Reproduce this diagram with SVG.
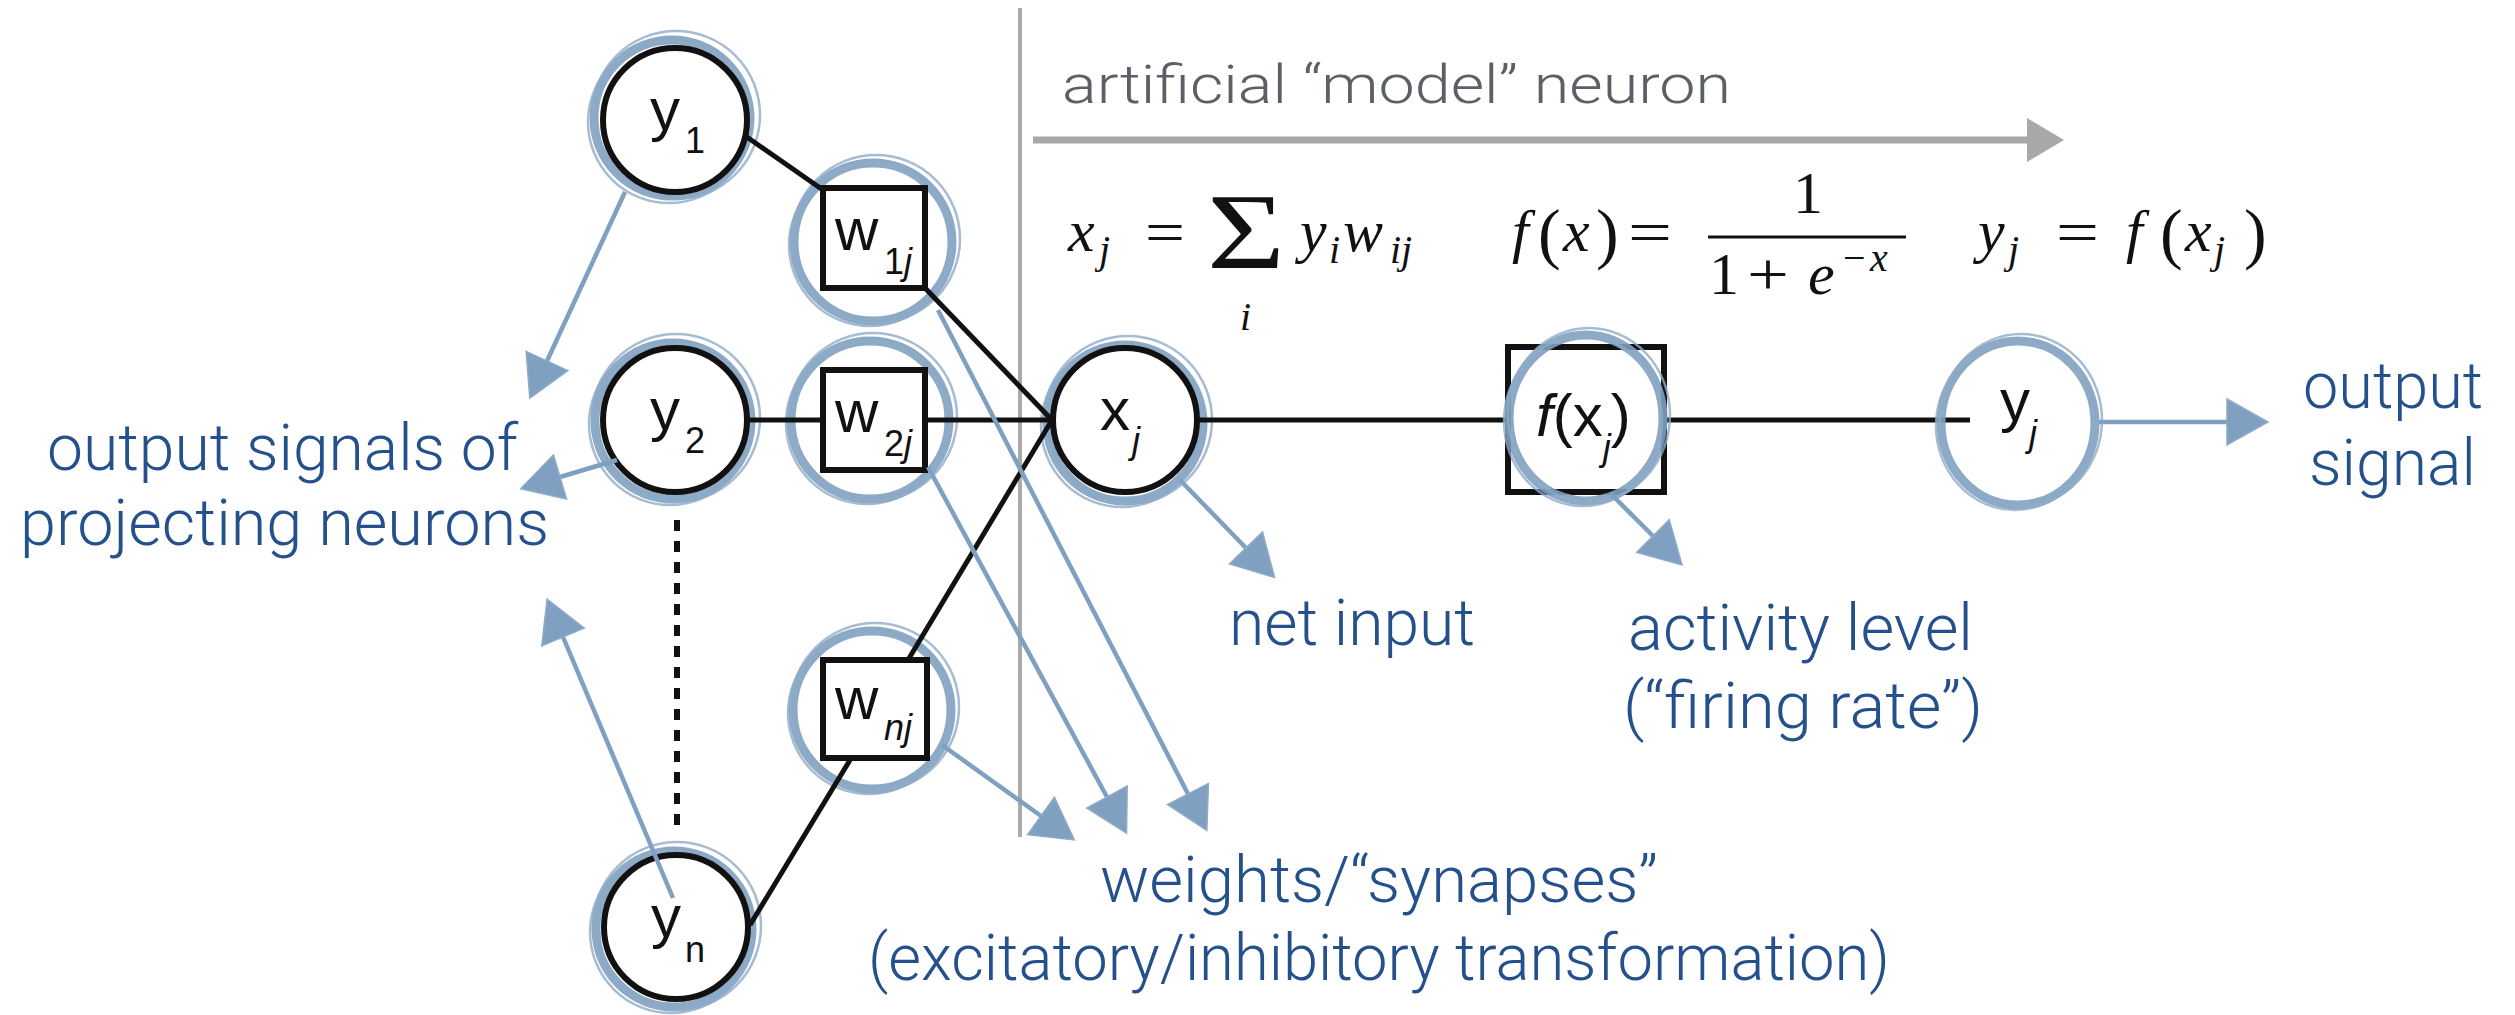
<svg xmlns="http://www.w3.org/2000/svg" width="2515" height="1015" viewBox="0 0 2515 1015">
<defs>
<style>
.ring{fill:none;stroke:#7fa0c0;stroke-width:9;opacity:.9}
.rt{fill:none;stroke:#8eabc8;stroke-width:2.5;opacity:.8}
.nc{fill:#fff;stroke:#111;stroke-width:6}
.bx{fill:#fff;stroke:#111;stroke-width:6}
.wire{stroke:#111;stroke-width:5;fill:none}
.barr{stroke:#7fa0c0;stroke-width:4.5;fill:none;marker-end:url(#ba)}
.nl{font-family:"Liberation Sans",Arial,sans-serif;font-size:60px;fill:#111}
.sub{font-size:36px}
.it{font-style:italic}
.lab{font-family:Roboto,"Liberation Sans",Arial,sans-serif;font-weight:300;font-size:65px;fill:#24508c}
.grey{font-family:Roboto,"Liberation Sans",Arial,sans-serif;font-weight:300;font-size:54px;fill:#5b5f66}
.m{font-family:"Liberation Serif","Times New Roman",serif;font-size:60px;fill:#111}
.mi{font-style:italic}
.ms{font-size:40px}
.mp{font-size:68px}
.sig{font-size:108px}
</style>
<marker id="ba" markerUnits="userSpaceOnUse" markerWidth="44" markerHeight="52" viewBox="0 -26 44 52" refX="0" refY="0" orient="auto" overflow="visible">
<path d="M0,-23 L41,0 L0,23 Z" fill="#7fa0c0" stroke="#8eabc8" stroke-width="1.5"/>
</marker>
<marker id="ga" markerUnits="userSpaceOnUse" markerWidth="42" markerHeight="50" viewBox="0 -25 42 50" refX="0" refY="0" orient="auto" overflow="visible">
<path d="M0,-22 L37,0 L0,22 Z" fill="#a8a8aa"/>
</marker>
</defs>
<rect width="2515" height="1015" fill="#fff"/>

<g id="model-region">
<line x1="1020" y1="8" x2="1020" y2="837" stroke="#aaaaaa" stroke-width="4"/>
<line x1="1033" y1="140" x2="2027" y2="140" stroke="#a8a8aa" stroke-width="7" marker-end="url(#ga)"/>
<text class="grey" x="1062" y="103" textLength="669" lengthAdjust="spacingAndGlyphs">artificial “model” neuron</text>
</g>

<g id="halos">
<circle class="ring" cx="672" cy="118" r="78"/><circle class="rt" cx="676" cy="115" r="84"/><circle class="rt" cx="669" cy="122" r="81"/>
<circle class="ring" cx="673" cy="421" r="78"/><circle class="rt" cx="676" cy="418" r="84"/><circle class="rt" cx="670" cy="424" r="81"/>
<circle class="ring" cx="674" cy="929" r="78"/><circle class="rt" cx="677" cy="926" r="84"/><circle class="rt" cx="671" cy="932" r="81"/>
<circle class="ring" cx="873" cy="242" r="79"/><circle class="rt" cx="876" cy="239" r="84"/><circle class="rt" cx="870" cy="245" r="81"/>
<circle class="ring" cx="870" cy="420" r="79"/><circle class="rt" cx="873" cy="417" r="84"/><circle class="rt" cx="867" cy="423" r="81"/>
<circle class="ring" cx="872" cy="710" r="79"/><circle class="rt" cx="875" cy="707" r="84"/><circle class="rt" cx="869" cy="713" r="81"/>
<circle class="ring" cx="1125" cy="423" r="78"/><circle class="rt" cx="1128" cy="420" r="84"/><circle class="rt" cx="1122" cy="426" r="81"/>
</g>

<g id="connectors">
<line class="wire" x1="744" y1="135" x2="823" y2="190"/>
<line class="wire" x1="748" y1="420" x2="823" y2="420"/>
<line class="wire" x1="750" y1="925" x2="850" y2="760"/>
<line class="wire" x1="925" y1="288" x2="1052" y2="420"/>
<line class="wire" x1="926" y1="420" x2="1052" y2="420"/>
<line class="wire" x1="908" y1="660" x2="1052" y2="420"/>
<line class="wire" x1="1198" y1="420" x2="1508" y2="420"/>
<line class="wire" x1="1664" y1="420" x2="1970" y2="420"/>
<line x1="677" y1="520" x2="677" y2="825" stroke="#111" stroke-width="6" stroke-dasharray="11 10"/>
</g>

<g id="node-y1">
<circle class="nc" cx="675" cy="120" r="72"/>
<text class="nl" x="650" y="130">y<tspan class="sub" x="685" y="153">1</tspan></text>
</g>
<g id="node-y2">
<circle class="nc" cx="675" cy="420" r="72"/>
<text class="nl" x="650" y="430">y<tspan class="sub" x="685" y="453">2</tspan></text>
</g>
<g id="node-yn">
<circle class="nc" cx="676" cy="927" r="72"/>
<text class="nl" x="651" y="937">y<tspan class="sub" x="685" y="962">n</tspan></text>
</g>
<g id="node-w1j">
<rect class="bx" x="823" y="188" width="102" height="100"/>
<text class="nl" x="835" y="250">w<tspan class="sub" x="884" y="274">1<tspan class="it">j</tspan></tspan></text>
</g>
<g id="node-w2j">
<rect class="bx" x="823" y="370" width="102" height="100"/>
<text class="nl" x="835" y="432">w<tspan class="sub" x="884" y="456">2<tspan class="it">j</tspan></tspan></text>
</g>
<g id="node-wnj">
<rect class="bx" x="823" y="660" width="104" height="98"/>
<text class="nl" x="835" y="719">w<tspan class="sub it" x="884" y="740">nj</tspan></text>
</g>
<g id="node-xj">
<circle class="nc" cx="1125" cy="420" r="72"/>
<text class="nl" x="1100" y="430">x<tspan class="sub it" x="1132" y="453">j</tspan></text>
</g>
<g id="node-fxj">
<rect class="bx" x="1508" y="347" width="156" height="145"/>
<ellipse class="ring" cx="1586" cy="418" rx="77" ry="83"/>
<ellipse class="rt" cx="1589" cy="415" rx="81" ry="87"/>
<ellipse class="rt" cx="1583" cy="421" rx="79" ry="85"/>
<text class="nl" x="1536" y="436"><tspan class="it">f</tspan>(x<tspan class="sub it" y="460">j</tspan><tspan y="436">)</tspan></text>
</g>
<g id="node-yj">
<ellipse class="ring" cx="2018" cy="423" rx="77" ry="82"/>
<ellipse class="rt" cx="2021" cy="420" rx="81" ry="86"/>
<ellipse class="rt" cx="2015" cy="426" rx="79" ry="84"/>
<text class="nl" x="2000" y="421">y<tspan class="sub it" x="2029" y="446">j</tspan></text>
</g>

<g id="signal-arrows">
<line class="barr" x1="625" y1="192" x2="547" y2="361"/>
<line class="barr" x1="617" y1="460" x2="560" y2="477"/>
<line class="barr" x1="673" y1="898" x2="563" y2="637"/>
<line class="barr" x1="938" y1="310" x2="1188" y2="794"/>
<line class="barr" x1="928" y1="467" x2="1107" y2="797"/>
<line class="barr" x1="942" y1="745" x2="1041" y2="816"/>
<line class="barr" x1="1180" y1="480" x2="1246" y2="548"/>
<line class="barr" x1="1610" y1="493" x2="1653" y2="536"/>
<line class="barr" x1="2099" y1="422" x2="2227" y2="422"/>
</g>

<g id="equations">
<text class="m mi" x="1068" y="251">x</text>
<text class="m mi ms" x="1099" y="263">j</text>
<text class="m" x="1145" y="252" textLength="40" lengthAdjust="spacingAndGlyphs">=</text>
<text class="m sig" x="1207" y="268" textLength="78" lengthAdjust="spacingAndGlyphs">Σ</text>
<text class="m mi ms" x="1240" y="330">i</text>
<text class="m mi" x="1300" y="251">y</text>
<text class="m mi ms" x="1329" y="263">i</text>
<text class="m mi" x="1343" y="251">w</text>
<text class="m mi ms" x="1390" y="263">ij</text>

<text class="m mi" x="1512" y="251">f</text>
<text class="m mp" x="1538" y="256">(</text>
<text class="m mi" x="1563" y="251">x</text>
<text class="m mp" x="1596" y="256">)</text>
<text class="m" x="1628" y="252" textLength="44" lengthAdjust="spacingAndGlyphs">=</text>
<line x1="1708" y1="237" x2="1906" y2="237" stroke="#111" stroke-width="3"/>
<text class="m" x="1793" y="213">1</text>
<text class="m" x="1709" y="294">1</text>
<text class="m" x="1747" y="294" textLength="42" lengthAdjust="spacingAndGlyphs">+</text>
<text class="m mi" x="1808" y="294">e</text>
<text class="m ms" x="1843" y="271">−</text>
<text class="m mi ms" x="1870" y="271">x</text>

<text class="m mi" x="1978" y="251">y</text>
<text class="m mi ms" x="2008" y="263">j</text>
<text class="m" x="2056" y="252" textLength="43" lengthAdjust="spacingAndGlyphs">=</text>
<text class="m mi" x="2126" y="251">f</text>
<text class="m mp" x="2160" y="256">(</text>
<text class="m mi" x="2185" y="251">x</text>
<text class="m mi ms" x="2214" y="263">j</text>
<text class="m mp" x="2244" y="256">)</text>
</g>

<g id="labels">
<text class="lab" x="47" y="470" textLength="471" lengthAdjust="spacingAndGlyphs">output signals of</text>
<text class="lab" x="20" y="545" textLength="529" lengthAdjust="spacingAndGlyphs">projecting neurons</text>
<text class="lab" x="1229" y="645" textLength="246" lengthAdjust="spacingAndGlyphs">net input</text>
<text class="lab" x="1628" y="650" textLength="345" lengthAdjust="spacingAndGlyphs">activity level</text>
<text class="lab" x="1623" y="728" textLength="360" lengthAdjust="spacingAndGlyphs">(“firing rate”)</text>
<text class="lab" x="2303" y="408" textLength="180" lengthAdjust="spacingAndGlyphs">output</text>
<text class="lab" x="2309" y="485" textLength="167" lengthAdjust="spacingAndGlyphs">signal</text>
<text class="lab" x="1100" y="902" textLength="558" lengthAdjust="spacingAndGlyphs">weights/“synapses”</text>
<text class="lab" x="868" y="980" textLength="1022" lengthAdjust="spacingAndGlyphs">(excitatory/inhibitory transformation)</text>
</g>
</svg>
